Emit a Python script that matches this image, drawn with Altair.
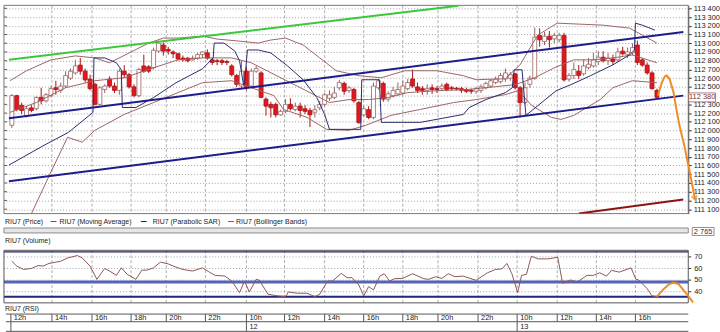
import altair as alt
import pandas as pd

# ---------------- data ----------------
opens = [112060,112400,112290,112170,112260,112250,112380,112340,112400,112490,112460,112510,112600,112660,112750,112680,112590,112530,112300,112470,
         112590,112510,112460,112680,112640,112500,112400,112740,112730,112720,112910,112980,112930,112900,112880,112830,112830,112810,112830,112870,
         112890,112810,112800,112800,112790,112740,112630,112510,112680,112510,112680,112660,112360,112300,112300,112180,112220,112300,112240,112280,
         112250,112230,112210,112260,112300,112370,112380,112490,112540,112460,112470,112320,112180,112240,112150,112490,112540,112360,112400,112420,
         112430,112480,112590,112500,112480,112460,112490,112480,112480,112530,112490,112485,112480,112470,112460,112450,112460,112490,112510,112550,
         112560,112590,112600,112650,112490,112320,112530,112600,113090,113020,113080,113050,113040,113090,112590,112630,112680,112650,112720,112740,
         112790,112840,112800,112820,112810,112910,112870,112890,112980,112810,112750,112660,112460]
closes = [112400,112240,112230,112250,112230,112380,112340,112410,112480,112470,112510,112630,112680,112740,112680,112580,112480,112300,112490,112510,
          112510,112460,112680,112640,112500,112400,112700,112680,112680,112920,113000,112910,112910,112880,112820,112810,112800,112830,112870,112900,
          112830,112780,112790,112780,112780,112640,112530,112680,112490,112680,112710,112380,112280,112260,112180,112220,112300,112250,112280,112230,
          112220,112180,112240,112300,112410,112410,112430,112550,112450,112490,112340,112090,112250,112150,112510,112570,112360,112420,112460,112470,
          112510,112550,112510,112460,112460,112480,112470,112470,112510,112470,112480,112475,112460,112450,112450,112480,112500,112540,112570,112590,
          112630,112660,112640,112490,112320,112490,112600,113070,113040,113080,113040,113090,113090,112580,112630,112700,112630,112740,112760,112810,
          112840,112800,112830,112790,112900,112880,112900,112950,112780,112750,112660,112480,112380]
highs = [112420,112410,112320,112280,112290,112390,112490,112430,112510,112570,112550,112680,112710,112810,112830,112710,112640,112550,112510,112530,
         112620,112550,112710,112750,112660,112530,112720,112870,112750,112950,113030,113010,112960,112920,112890,112860,112840,112860,112890,112910,
         112930,112830,112820,112820,112810,112760,112650,112800,112730,112710,112740,112680,112380,112330,112320,112240,112360,112370,112320,112320,
         112290,112260,112290,112340,112430,112460,112500,112580,112560,112510,112490,112340,112280,112280,112550,112590,112560,112450,112500,112550,
         112570,112590,112700,112550,112510,112530,112530,112510,112540,112550,112510,112500,112500,112490,112480,112500,112530,112560,112590,112620,
         112660,112710,112670,112660,112510,112550,112630,113180,113170,113130,113140,113120,113120,113120,112660,112780,112750,112810,112830,112890,
         112910,112910,112890,112870,112950,112960,112950,113000,113030,112830,112780,112680,112480]
lows = [112030,112220,112190,112150,112210,112230,112300,112320,112380,112410,112430,112490,112580,112640,112640,112550,112460,112290,112290,112430,
        112490,112430,112410,112600,112480,112380,112380,112660,112660,112700,112890,112860,112870,112830,112800,112790,112780,112800,112810,112830,
        112810,112750,112750,112750,112750,112620,112500,112480,112460,112490,112660,112370,112170,112150,112150,112170,112200,112230,112220,112150,
        112190,112040,112150,112230,112280,112340,112360,112460,112410,112430,112320,112080,112160,112130,112130,112470,112330,112330,112380,112400,
        112410,112460,112490,112430,112410,112410,112420,112430,112460,112450,112460,112460,112430,112430,112420,112420,112430,112470,112490,112530,
        112540,112560,112570,112470,112150,112300,112490,112580,112960,112980,112950,113000,113010,112560,112560,112590,112590,112630,112700,112720,
        112750,112780,112750,112750,112790,112860,112830,112860,112750,112730,112640,112470,112370]

# time slots of the hour labels (bottom axis)
tick_pos = [-0.2, 8.2, 16.4, 24.4, 31.6, 39.6, 48, 55.8, 64, 72, 80, 87.2, 95.4, 103.4, 111.6, 119.6, 127.6]
tick_labels = ["12h", "14h", "16h", "18h", "20h", "22h", "10h", "12h", "14h", "16h", "18h", "20h", "22h", "10h", "12h", "14h", "16h"]
day_pos = [48, 103.4]
day_labels = ["12", "13"]

# indicators (slot, price)
sar_i = [-0.6, 7, 11.6, 16.6, 16.8, 19, 21.4, 22.4, 22.6, 25.4, 29, 33.6, 39, 41.2, 41.4, 43.4, 45.6, 46.6, 47.4, 47.6, 48.2, 50.4, 53, 56.4,
         59.6, 62.4, 64, 65, 71.4, 71.6, 75.2, 75.6, 83.6, 92.4, 93.6, 97, 101, 102.4, 102.8, 104.4, 105.2, 111.4, 114.4, 118.4, 123, 126.4,
         127.4, 127.6, 129, 131.6]
sar_p = [111605, 111844, 111980, 112208, 112832, 112832, 112776, 112696, 112264, 112264, 112378, 112548, 112707, 112832, 113002, 113002,
         112912, 112798, 112526, 112526, 112923, 112923, 112889, 112741, 112582, 112378, 112185, 112014, 112014, 112582, 112582, 112094,
         112094, 112185, 112264, 112355, 112435, 112491, 112696, 112696, 112174, 112457, 112526, 112628, 112753, 112866, 112923, 113230,
         113207, 113150]
bbu_i = [-0.4, 3, 8, 13, 17, 20, 24, 28, 31, 34, 39, 42, 46.4, 50.4, 53, 56, 59.6, 63, 66.4, 71, 75.6, 80.4, 87, 92.4, 95, 101, 104, 107.6,
         111.6, 121, 126.4, 129, 132]
bbu_p = [112571, 112685, 112810, 112855, 112832, 112776, 112889, 113002, 113059, 113059, 113082, 113048, 113025, 113002, 113037, 113059,
         112980, 112832, 112685, 112628, 112605, 112685, 112685, 112628, 112582, 112594, 112753, 113093, 113230, 113207, 113173, 113093, 113002]
bbm_i = [-0.4, 5, 11, 17, 23, 29, 34, 39, 45, 49, 53, 57, 61, 65, 69, 73, 77, 81, 87, 93, 99, 103, 107, 111, 115, 119, 123, 127, 132]
bbm_p = [112208, 112321, 112491, 112571, 112605, 112719, 112810, 112832, 112832, 112776, 112662, 112548, 112435, 112321, 112355, 112355,
         112378, 112435, 112457, 112469, 112503, 112526, 112605, 112719, 112810, 112810, 112832, 112866, 112776]
bbl_i = [4, 8, 11.4, 14.4, 17, 23, 29, 34, 39, 45, 49, 53.6, 55.6, 60.4, 64.4, 69, 72.4, 77.6, 83.6, 90.4, 95, 101, 103.6, 106.4, 110.4,
         112.4, 115, 120.4, 123, 127, 132]
bbl_p = [111049, 111526, 111923, 111867, 112003, 112185, 112321, 112435, 112548, 112571, 112491, 112401, 112242, 112151, 112014, 112003,
         112060, 112174, 112242, 112321, 112355, 112412, 112457, 112287, 112151, 112128, 112174, 112355, 112491, 112571, 112548]

# trend lines (slot, price)
green_i = [-0.6, 91.4]; green_p = [112810, 113430]
chan_hi_i = [-0.6, 137.4]; chan_hi_p = [112140, 113130]
chan_lo_i = [-0.6, 137.4]; chan_lo_p = [111420, 112400]
red_i = [116, 137.4]; red_p = [111050, 111210]
fc_i = [132.2, 133, 133.6, 134, 134.6, 135.4, 136, 136.6, 137.6, 139, 139.8]
fc_p = [112400, 112550, 112620, 112630, 112590, 112435, 112240, 112060, 111830, 111446, 111210]

# RSI
rsi_i = [0, 1, 2.4, 4, 5.4, 6.4, 7.6, 9, 10, 11.4, 13.4, 14.4, 16, 17.4, 19, 20, 21.4, 22.4, 23.6, 25.4, 26.6, 27.6, 29, 30.4, 32, 33, 35,
         37, 39, 40.4, 41.6, 43.6, 45, 46.6, 47.6, 48.6, 50, 50.6, 52.4, 54.4, 56, 56.6, 58.4, 60.4, 62, 63, 64.6, 65.6, 67.4, 68.6, 69.6,
         71, 72, 73, 74, 75.3, 76.2, 77.3, 78.3, 80, 82, 84.3, 85.3, 86.7, 88, 89.3, 90.7, 92.3, 95, 97.3, 99, 100.3, 101.3, 102.3, 103.5,
         104.3, 105.3, 106.3, 107.7, 109.7, 111.7, 112.7, 114.3, 115.7, 117.7, 119, 120.3, 121.7, 122.7, 124.3, 126.7, 127.7, 128.3, 130,
         131, 132]
rsi_v = [66.3, 62.1, 59.2, 60.1, 62.6, 62.1, 64.4, 65.5, 66.3, 69.1, 71.2, 69.1, 62.1, 50.7, 60.1, 57.8, 54.1, 60.6, 55.0, 50.7, 58.6,
         58.6, 60.6, 65.5, 64.0, 62.1, 59.2, 57.8, 60.6, 56.9, 54.1, 53.5, 49.2, 39.2, 49.2, 39.8, 50.7, 50.1, 37.9, 36.4, 35.8, 39.8,
         38.7, 38.7, 35.8, 37.9, 49.2, 49.2, 55.8, 52.1, 52.1, 45.8, 36.4, 44.4, 41.5, 53.5, 55.5, 49.2, 51.2, 51.5, 55.5, 51.2, 50.7,
         52.9, 51.5, 55.5, 52.9, 53.5, 49.8, 56.3, 59.2, 59.7, 64.4, 55.8, 39.2, 54.1, 55.0, 70.6, 68.3, 68.3, 69.7, 47.3, 50.1, 48.4,
         54.1, 54.1, 56.3, 53.5, 58.4, 56.9, 60.6, 50.7, 50.1, 42.6, 36.4, 35.8]
rsi_fc_i = [132, 133.4, 134.4, 135.4, 136.4, 137.4, 138.4, 139.4]
rsi_fc_v = [35.8, 42.4, 46.2, 48.0, 46.7, 41.5, 36.4, 30.9]
rsi_levels = [74.3, 48.4, 35.6]

price_levels = list(range(111100, 113401, 100))
rsi_ticks = [40, 50, 60, 70]

legend_names = ["RIU7 (Price)", "RIU7 (Moving Average)", "RIU7 (Parabolic SAR)", "RIU7 (Bollinger Bands)"]
scroll_value = "2 765"

# ---------------- styling / layout (pixel positions relative to the price plot) ----------------
FONT = "Liberation Sans Narrow, Arial Narrow, Liberation Sans, sans-serif"
W, H = 690, 210
RSI_TOP, RSI_BOT = 247, 300          # RSI box
ROW1, ROW2, ROW3 = 311.3, 319, 328.7  # time axis rows

XS = alt.Scale(domain=[-0.6, 137.4], nice=False, zero=False)
YS = alt.Scale(domain=[111049, 113434], nice=False, zero=False)
RS = alt.Scale(domain=[30.4, 75.7], range=[RSI_BOT, RSI_TOP], nice=False, zero=False)

yaxis = alt.Axis(orient="right", values=price_levels, title=None,
                 labelExpr="datum.value == 112400 ? '' : replace(format(datum.value, ',d'), ',', ' ')",
                 grid=True, gridDash=[1, 2], gridColor="#8a8a8a", gridWidth=0.8,
                 tickSize=3, tickColor="#333", domainColor="#333", labelFontSize=7.5, labelFont=FONT,
                 labelColor="#222", labelPadding=2)


def X(f):
    return alt.X(f, scale=XS, axis=None)


def Y(f, axis=None):
    return alt.Y(f, scale=YS, axis=axis)


def R(f):
    return alt.Y(f, scale=RS, axis=None)


def line_df(ii, pp):
    return pd.DataFrame({"i": ii, "p": pp, "o": list(range(len(ii)))})


vgrid_df = pd.DataFrame({"i": tick_pos[1:]})
one = pd.DataFrame({"a": [0]})

candles = pd.DataFrame({"i": list(range(len(opens))), "open": opens, "close": closes, "high": highs, "low": lows})
candles["dir"] = ["up" if c >= o else "down" for o, c in zip(opens, closes)]

fill_scale = alt.Scale(domain=["up", "down"], range=["#ffffff", "#e3161c"])
stroke_scale = alt.Scale(domain=["up", "down"], range=["#9a6262", "#a81418"])

# --- price panel ---
axis_layer = alt.Chart(pd.DataFrame({"p": price_levels})).mark_rule(color="#555", strokeWidth=1).encode(
    x=alt.value(0), x2=alt.value(3), y=Y("p:Q", axis=yaxis))
vgrid_main = alt.Chart(vgrid_df).mark_rule(color="#9a9a9a", strokeWidth=0.8, strokeDash=[3, 2]).encode(
    x=X("i:Q"), y=alt.value(0), y2=alt.value(H))
frame_main = alt.Chart(one).mark_rect(fill="transparent", stroke="#777", strokeWidth=1).encode(
    x=alt.value(0), x2=alt.value(W), y=alt.value(0), y2=alt.value(H))

wicks = alt.Chart(candles).mark_rule(strokeWidth=1).encode(
    x=X("i:Q"), y=Y("low:Q"), y2="high:Q",
    color=alt.Color("dir:N", scale=stroke_scale, legend=None))
bodies = alt.Chart(candles).mark_bar(size=4, strokeWidth=0.8).encode(
    x=X("i:Q"), y=Y("open:Q"), y2="close:Q",
    fill=alt.Fill("dir:N", scale=fill_scale, legend=None),
    stroke=alt.Stroke("dir:N", scale=stroke_scale, legend=None))


def ln(ii, pp, color, width, clip=True):
    return alt.Chart(line_df(ii, pp)).mark_line(color=color, strokeWidth=width, clip=clip).encode(
        x=X("i:Q"), y=Y("p:Q"), order="o:Q")


tag_df = pd.DataFrame({"p": [closes[-1]], "t": [f"{closes[-1] // 1000} {closes[-1] % 1000:03d}"]})

price_layers = [
    vgrid_main, axis_layer, frame_main,
    wicks, bodies,
    ln(bbu_i, bbu_p, "#9c6464", 1),
    ln(bbm_i, bbm_p, "#9c6464", 1),
    ln(bbl_i, bbl_p, "#9c6464", 1),
    ln(sar_i, sar_p, "#2a2a6e", 1),
    ln(green_i, green_p, "#3cc83c", 2),
    ln(chan_hi_i, chan_hi_p, "#1c1c8a", 2),
    ln(chan_lo_i, chan_lo_p, "#1c1c8a", 2),
    ln(red_i, red_p, "#8c1414", 2),
    ln(fc_i, fc_p, "#f08c28", 2, clip=False),
    alt.Chart(pd.DataFrame({"i": [fc_i[-1]], "p": [fc_p[-1]]})).mark_point(
        shape="M-0.7,-1L0,0L0.7,-1", size=60, filled=False, color="#f08c28", strokeWidth=2,
        angle=349).encode(x=X("i:Q"), y=Y("p:Q")),
    alt.Chart(tag_df).mark_rect(fill="#ffffff", stroke="#9a6262", strokeWidth=0.8, height=9, width=27).encode(
        x=alt.value(704), y=Y("p:Q")),
    alt.Chart(tag_df).mark_text(font=FONT, fontSize=7.5, color="#8a2a2a", align="center", baseline="middle").encode(
        x=alt.value(704), y=Y("p:Q"), text="t:N"),
]

# --- legend / scrollbar strip ---
leg_x = [1, 56, 150, 234]
dash_x = [47, 138, 226]
dash_colors = ["#555555", "#1f1f6e", "#8e4a4a"]
leg_df = pd.DataFrame({"t": legend_names, "x": leg_x})
dash_df = pd.DataFrame({"x": dash_x, "x2": [d + 6 for d in dash_x], "c": dash_colors})
strip_layers = [
    alt.Chart(leg_df).mark_text(font=FONT, fontSize=7, color="#222", align="left", baseline="middle").encode(
        x=alt.X("x:Q", scale=None), y=alt.value(218), text="t:N"),
    alt.Chart(dash_df).mark_rule(strokeWidth=1).encode(
        x=alt.X("x:Q", scale=None), x2="x2:Q", y=alt.value(218), color=alt.Color("c:N", scale=None)),
    alt.Chart(one).mark_rect(fill="#e6e6e6", stroke="#8a8a8a", strokeWidth=1).encode(
        x=alt.value(0), x2=alt.value(W), y=alt.value(224.5), y2=alt.value(229.5)),
    alt.Chart(one).mark_rect(fill="#ffffff", stroke="#9a6262", strokeWidth=0.8).encode(
        x=alt.value(694), x2=alt.value(716), y=alt.value(224), y2=alt.value(232)),
    alt.Chart(pd.DataFrame({"t": [scroll_value]})).mark_text(font=FONT, fontSize=7.5, color="#333", align="center",
                                                           baseline="middle").encode(
        x=alt.value(705), y=alt.value(228.3), text="t:N"),
    alt.Chart(pd.DataFrame({"t": ["RIU7 (Volume)"]})).mark_text(font=FONT, fontSize=7, color="#222", align="left",
                                                              baseline="middle").encode(
        x=alt.value(1), y=alt.value(238), text="t:N"),
]

# --- RSI panel ---
lvl_df = pd.DataFrame({"v": rsi_levels, "w": [1.2, 3, 2], "c": ["#20206a", "#5565b5", "#1e2a78"]})
rt_df = pd.DataFrame({"v": rsi_ticks, "t": [str(v) for v in rsi_ticks]})
rsi_layers = [
    alt.Chart(vgrid_df).mark_rule(color="#9a9a9a", strokeWidth=0.8, strokeDash=[3, 2]).encode(
        x=X("i:Q"), y=alt.value(RSI_TOP), y2=alt.value(RSI_BOT)),
    alt.Chart(rt_df).mark_rule(color="#8a8a8a", strokeWidth=0.8, strokeDash=[1, 2]).encode(
        x=alt.value(0), x2=alt.value(W), y=R("v:Q")),
    alt.Chart(rt_df).mark_rule(color="#333", strokeWidth=1).encode(
        x=alt.value(W), x2=alt.value(W + 3), y=R("v:Q")),
    alt.Chart(rt_df).mark_text(font=FONT, fontSize=7.5, color="#222", align="left", baseline="middle").encode(
        x=alt.value(W + 6), y=R("v:Q"), text="t:N"),
    alt.Chart(lvl_df).mark_rule().encode(
        x=alt.value(0), x2=alt.value(W), y=R("v:Q"),
        strokeWidth=alt.StrokeWidth("w:Q", scale=None), color=alt.Color("c:N", scale=None)),
    alt.Chart(one).mark_rect(fill="transparent", stroke="#555", strokeWidth=1).encode(
        x=alt.value(0), x2=alt.value(W), y=alt.value(RSI_TOP), y2=alt.value(RSI_BOT)),
    alt.Chart(pd.DataFrame({"i": rsi_i, "v": rsi_v, "o": list(range(len(rsi_i)))})).mark_line(
        color="#8e5656", strokeWidth=1).encode(x=X("i:Q"), y=R("v:Q"), order="o:Q"),
    alt.Chart(pd.DataFrame({"i": rsi_fc_i, "v": rsi_fc_v, "o": list(range(len(rsi_fc_i)))})).mark_line(
        color="#f08c28", strokeWidth=2).encode(x=X("i:Q"), y=R("v:Q"), order="o:Q"),
]

# --- time axis strip ---
tick_df = pd.DataFrame({"i": tick_pos, "t": tick_labels})
day_df = pd.DataFrame({"i": day_pos, "t": day_labels})
time_layers = [
    alt.Chart(pd.DataFrame({"t": ["RIU7 (RSI)"]})).mark_text(font=FONT, fontSize=7, color="#222", align="left",
                                                           baseline="middle").encode(
        x=alt.value(1), y=alt.value(306), text="t:N"),
    alt.Chart(pd.DataFrame({"y": [ROW1, ROW2, ROW3]})).mark_rule(color="#555", strokeWidth=1).encode(
        x=alt.value(2), x2=alt.value(W), y=alt.Y("y:Q", scale=None)),
    alt.Chart(tick_df).mark_rule(color="#555", strokeWidth=1).encode(
        x=X("i:Q"), y=alt.value(ROW1), y2=alt.value(ROW2)),
    alt.Chart(pd.DataFrame({"i": [tick_pos[0]] + day_pos})).mark_rule(color="#555", strokeWidth=1).encode(
        x=X("i:Q"), y=alt.value(ROW2), y2=alt.value(ROW3)),
    alt.Chart(tick_df).mark_text(font=FONT, fontSize=7.5, color="#222", align="left", baseline="middle", dx=3).encode(
        x=X("i:Q"), y=alt.value((ROW1 + ROW2) / 2), text="t:N"),
    alt.Chart(day_df).mark_text(font=FONT, fontSize=7.5, color="#222", align="left", baseline="middle", dx=3).encode(
        x=X("i:Q"), y=alt.value((ROW2 + ROW3) / 2), text="t:N"),
]

chart = alt.layer(*(price_layers + strip_layers + rsi_layers + time_layers)).resolve_scale(
    y="independent"
).properties(width=W, height=H).configure(
    padding={"left": 2, "top": 2, "right": 0, "bottom": 0},
    background="#ffffff",
).configure_view(stroke="transparent")

chart.save("out.html", embed_options={"renderer": "svg", "actions": False})
